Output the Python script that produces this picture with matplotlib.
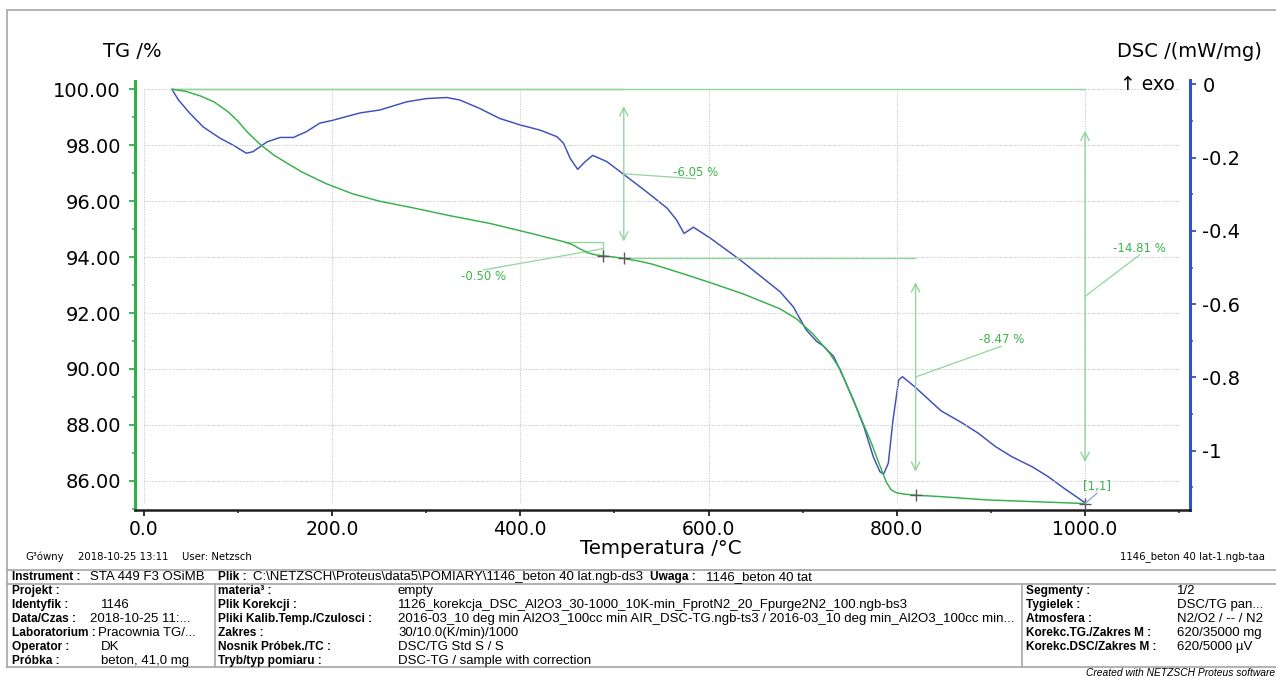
import matplotlib
matplotlib.use("Agg")
import matplotlib.pyplot as plt
from matplotlib.ticker import FixedLocator, FormatStrFormatter, FuncFormatter
from matplotlib.patches import Rectangle
from matplotlib.lines import Line2D

plt.rcParams['axes.unicode_minus'] = False
plt.rcParams['font.family'] = ['DejaVu Sans']

# ---------------- measurement data ----------------
temp_tg = [30, 45, 60, 75, 90, 100, 110, 117, 124, 138, 151, 168, 194, 222, 250,
           283, 325, 368, 411, 446, 455, 463, 472, 480, 489, 500, 510, 527, 541,
           577, 605, 637, 676, 694, 711, 729, 740, 750, 761, 772, 782, 789, 794,
           800, 810, 820, 846, 896, 961, 1000]
tg = [100.00, 99.92, 99.76, 99.54, 99.18, 98.86, 98.47, 98.24, 98.02, 97.65,
      97.38, 97.04, 96.62, 96.26, 96.00, 95.78, 95.48, 95.20, 94.85, 94.55,
      94.45, 94.30, 94.15, 94.08, 94.04, 94.00, 93.95, 93.85, 93.74, 93.36,
      93.05, 92.68, 92.15, 91.78, 91.25, 90.55, 89.98, 89.18, 88.32, 87.44,
      86.55, 85.95, 85.68, 85.57, 85.52, 85.49, 85.44, 85.32, 85.24, 85.19]

temp_dsc = [30, 37, 49, 63, 81, 95, 109, 116, 131, 145, 159, 173, 187, 201, 230,
            251, 279, 300, 322, 336, 357, 378, 400, 421, 439, 446, 453, 461, 469,
            477, 492, 510, 534, 556, 566, 574, 584, 602, 634, 676, 690, 704, 715,
            722, 733, 743, 754, 765, 775, 782, 786, 791, 796, 802, 806, 818, 847,
            870, 887, 905, 922, 944, 961, 978, 1000]
dsc = [-0.014, -0.043, -0.079, -0.116, -0.147, -0.166, -0.188, -0.184, -0.157,
       -0.145, -0.145, -0.129, -0.106, -0.098, -0.078, -0.070, -0.048, -0.039,
       -0.036, -0.043, -0.066, -0.093, -0.111, -0.125, -0.143, -0.161, -0.202,
       -0.232, -0.211, -0.194, -0.211, -0.246, -0.293, -0.338, -0.370, -0.407,
       -0.390, -0.420, -0.480, -0.566, -0.607, -0.671, -0.702, -0.714, -0.743,
       -0.798, -0.862, -0.934, -1.016, -1.057, -1.064, -1.034, -0.916, -0.807,
       -0.798, -0.823, -0.891, -0.925, -0.953, -0.989, -1.016, -1.044, -1.071,
       -1.103, -1.142]

# mass-loss steps
step_values = [-6.05, -0.50, -8.47, -14.81]
step_start_temp = [30, 446, 510, 30]
step_end_temp = [510, 488, 820, 1000]
step_start_level = [100.00, 94.55, 93.95, 100.00]

temp_ticks = [0, 200, 400, 600, 800, 1000]
tg_ticks = [86, 88, 90, 92, 94, 96, 98, 100]
dsc_ticks = [0, -0.2, -0.4, -0.6, -0.8, -1.0]

# ---------------- style ----------------
GREEN = '#35b04a'
GREEN_AX = '#2fb049'
BLUE = '#3c4fbb'
BLUE_AX = '#2e55c8'
ANN = '#93d59d'
ANN_TXT = '#3cb44b'
GRID = '#c9c9c9'
FRAME = '#a6a6a6'

W, H = 1276, 676
fig = plt.figure(figsize=(W / 100, H / 100), dpi=100)


def fx(px):
    return px / W


def fy(py):
    return 1 - py / H


ax_l, ax_r, ax_t, ax_b = 134.7, 1189.8, 80.5, 510.0
ax = fig.add_axes([fx(ax_l), fy(ax_b), (ax_r - ax_l) / W, (ax_b - ax_t) / H])
ax2 = ax.twinx()
ax.set_zorder(ax2.get_zorder() + 1)
ax.patch.set_visible(False)

ax.set_xlim(-9.6, 1111.3)
ax.set_ylim(84.96, 100.31)
ax2.set_ylim(-1.1618, 0.0104)

# spines
ax.spines['top'].set_visible(False)
ax.spines['right'].set_visible(False)
ax.spines['left'].set_color(GREEN_AX)
ax.spines['left'].set_linewidth(2.2)
ax.spines['bottom'].set_color('#1e1e1e')
ax.spines['bottom'].set_linewidth(1.8)
for s in ['top', 'left', 'bottom']:
    ax2.spines[s].set_visible(False)
ax2.spines['right'].set_color(BLUE_AX)
ax2.spines['right'].set_linewidth(2.2)

# ticks
ax.xaxis.set_major_locator(FixedLocator(temp_ticks))
ax.xaxis.set_minor_locator(FixedLocator([100, 300, 500, 700, 900, 1100]))
ax.xaxis.set_major_formatter(FormatStrFormatter('%.1f'))
ax.tick_params(axis='x', which='major', length=4, width=1.3, color='#1e1e1e',
               labelsize=13.5, pad=3.5)
ax.tick_params(axis='x', which='minor', length=2.5, width=1.1, color='#1e1e1e')

ax.yaxis.set_major_locator(FixedLocator(tg_ticks))
ax.yaxis.set_minor_locator(FixedLocator([85, 87, 89, 91, 93, 95, 97, 99]))
ax.yaxis.set_major_formatter(FormatStrFormatter('%.2f'))
ax.tick_params(axis='y', which='major', length=4.5, width=1.3, color=GREEN_AX,
               labelsize=14, pad=5.5)
ax.tick_params(axis='y', which='minor', length=2.5, width=1.1, color=GREEN_AX)

ax2.yaxis.set_major_locator(FixedLocator(dsc_ticks))
ax2.yaxis.set_minor_locator(FixedLocator([-0.1, -0.3, -0.5, -0.7, -0.9, -1.1]))
ax2.yaxis.set_major_formatter(FuncFormatter(lambda v, _: f"{v:g}"))
ax2.tick_params(axis='y', which='major', length=4.5, width=1.3, color=BLUE_AX,
                labelsize=14, pad=4.6)
ax2.tick_params(axis='y', which='minor', length=2.5, width=1.1, color=BLUE_AX)

# dotted grid inside the plotting box
for v in tg_ticks:
    ax.hlines(v, 0, 1100, colors=GRID, linestyles=(0, (1, 1.2)), lw=0.8, zorder=0)
for t in temp_ticks:
    ax.vlines(t, 85.2, 100, colors=GRID, linestyles=(0, (1, 1.2)), lw=0.8, zorder=0)

# curves
ax2.plot(temp_dsc, dsc, color=BLUE, lw=1.05, solid_joinstyle='round')
ax.plot(temp_tg, tg, color=GREEN, lw=1.05, solid_joinstyle='round', zorder=3)

# step evaluation: reference levels, arrows, leaders and labels
label_anchor = [(586, 96.80, 'bottom'), (361, 93.54, 'top'),
                (911, 90.81, 'bottom'), (1058, 94.08, 'bottom')]
for val, t0, t1, lev, (lx, ly, va) in zip(step_values, step_start_temp,
                                          step_end_temp, step_start_level,
                                          label_anchor):
    end_lev = lev + val
    mid = lev + val / 2
    ax.hlines(lev, t0, t1, colors=ANN, lw=1.0, zorder=2)
    if abs(val) >= 1:
        top = lev + 0.1 * val
        bot = end_lev - 0.1 * val
        ax.annotate('', xy=(t1, bot), xytext=(t1, top),
                    arrowprops=dict(arrowstyle='<->,head_length=0.6,head_width=0.3',
                                    color=ANN, lw=1.0, shrinkA=0, shrinkB=0,
                                    mutation_scale=10), zorder=2)
    else:
        ax.vlines(t1, end_lev, lev, colors=ANN, lw=1.0, zorder=2)
    ax.plot([t1, lx], [mid, ly], color=ANN, lw=0.9, zorder=2)
    ax.text(lx, ly, f"{val:.2f} %", color=ANN_TXT, fontsize=8.5,
            ha='center', va=va, zorder=4)
    ax.plot([t1], [end_lev], marker='+', ms=9, mew=1.0, color='#5a5a5a', zorder=4)

# end-point marker label
ax.plot([1000, 1012.7], [85.19, 85.56], color='#8ea0d0', lw=0.9, zorder=4)
ax.text(1013, 85.58, '[1,1]', color=ANN_TXT, fontsize=8.5, ha='center',
        va='bottom', zorder=4)

# axis titles
fig.text(fx(132.6), fy(51.7), 'TG /%', fontsize=14, ha='center', va='center')
fig.text(fx(1189), fy(51.7), 'DSC /(mW/mg)', fontsize=14, ha='center', va='center')
fig.text(fx(1175), fy(84.3), '\u2191 exo', fontsize=13.5, ha='right', va='center')
fig.text(fx(660.4), fy(548.5), 'Temperatura /\u00b0C', fontsize=14.2, ha='center',
         va='center')

# footer of the plot frame
fig.text(fx(25.3), fy(557), 'G\u00b3\u00f3wny', fontsize=7.3, ha='left', va='center')
fig.text(fx(77.6), fy(557), '2018-10-25 13:11', fontsize=7.3, ha='left', va='center')
fig.text(fx(182.4), fy(557), 'User: Netzsch', fontsize=7.3, ha='left', va='center')
fig.text(fx(1264.5), fy(557), '1146_beton 40 lat-1.ngb-taa', fontsize=7.3,
         ha='right', va='center')

# outer frame of the plot
fig.add_artist(Rectangle((fx(7), fy(570)), (1300 - 7) / W, (570 - 10) / H,
                         transform=fig.transFigure, fill=False, ec=FRAME,
                         lw=1.2, clip_on=False))

# ---------------- info table ----------------
def hline(py, x0=7, x1=1300):
    fig.add_artist(Line2D([fx(x0), fx(x1)], [fy(py), fy(py)], color=FRAME, lw=1.2))


def vline(px, y0, y1):
    fig.add_artist(Line2D([fx(px), fx(px)], [fy(y0), fy(y1)], color=FRAME, lw=1.2))


TB_TOP, TB_HEAD, TB_BOT = 570, 584, 667
hline(TB_HEAD)
hline(TB_BOT)
vline(7, TB_TOP, TB_BOT)
vline(215, TB_HEAD, TB_BOT)
vline(1021.7, TB_HEAD, TB_BOT)

TF = 'Liberation Sans'
BOLD_SIZE = 8.6
VAL_SIZE = 9.5


def cell(px, py, s, bold=False):
    fig.text(fx(px), fy(py), s, fontsize=BOLD_SIZE if bold else VAL_SIZE,
             family=[TF, 'DejaVu Sans'], fontweight='bold' if bold else 'normal',
             ha='left', va='center')


head_y = 577
cell(11.7, head_y, 'Instrument :', True)
cell(90, head_y, 'STA 449 F3 OSiMB')
cell(218, head_y, 'Plik :', True)
cell(253, head_y, 'C:\\NETZSCH\\Proteus\\data5\\POMIARY\\1146_beton 40 lat.ngb-ds3')
cell(650, head_y, 'Uwaga :', True)
cell(706, head_y, '1146_beton 40 tat')

row_y = [591, 605, 619, 633, 647, 661]
left_labels = ['Projekt :', 'Identyfik :', 'Data/Czas :', 'Laboratorium :',
               'Operator :', 'Pr\u00f3bka :']
left_values = ['', '1146', '2018-10-25 11:...', 'Pracownia TG/...', 'DK',
               'beton, 41,0 mg']
left_value_x = [100.7, 100.7, 90, 98, 100.7, 100.7]
mid_labels = ['materia\u00b3 :', 'Plik Korekcji :', 'Pliki Kalib.Temp./Czulosci :',
              'Zakres :', 'Nosnik Pr\u00f3bek./TC :', 'Tryb/typ pomiaru :']
mid_values = ['empty',
              '1126_korekcja_DSC_Al2O3_30-1000_10K-min_FprotN2_20_Fpurge2N2_100.ngb-bs3',
              '2016-03_10 deg min Al2O3_100cc min AIR_DSC-TG.ngb-ts3 / '
              '2016-03_10 deg min_Al2O3_100cc min...',
              '30/10.0(K/min)/1000', 'DSC/TG Std S / S',
              'DSC-TG / sample with correction']
right_labels = ['Segmenty :', 'Tygielek :', 'Atmosfera :', 'Korekc.TG./Zakres M :',
                'Korekc.DSC/Zakres M :']
right_values = ['1/2', 'DSC/TG pan...', 'N2/O2 / -- / N2', '620/35000 mg',
                '620/5000 \u00b5V']

for i, y in enumerate(row_y):
    cell(11.7, y, left_labels[i], True)
    cell(left_value_x[i], y, left_values[i])
    cell(218, y, mid_labels[i], True)
    cell(398, y, mid_values[i])
    if i < len(right_labels):
        cell(1025.7, y, right_labels[i], True)
        cell(1177.3, y, right_values[i])

fig.text(fx(1275), fy(672.5), 'Created with NETZSCH Proteus software',
         fontsize=7.4, family=[TF, 'DejaVu Sans'], style='italic',
         ha='right', va='center')

fig.savefig('out.png', dpi=100)
